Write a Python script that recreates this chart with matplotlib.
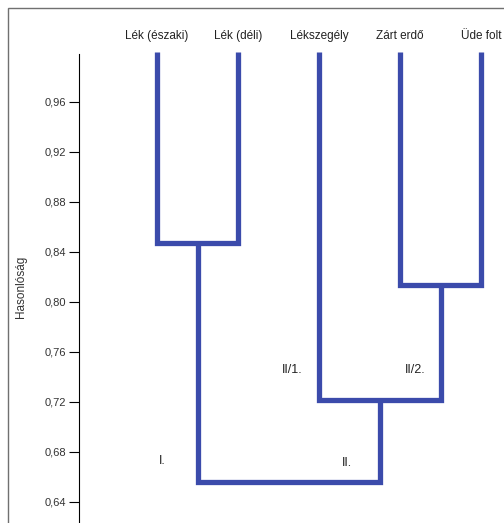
import matplotlib
matplotlib.use('Agg')
import matplotlib.pyplot as plt
from matplotlib.patches import Rectangle

plt.rcParams['font.family'] = ['Liberation Sans', 'DejaVu Sans']

# leaves (in dendrogram order) and merge heights (similarity)
leaves = ['Lék (északi)', 'Lék (déli)', 'Lékszegély', 'Zárt erdő', 'Üde folt']
leaf_top = 1.0
h_lek = 0.847
h_zu = 0.8135
h_II = 0.7215
h_root = 0.6555
group_labels = ['I.', 'II.', 'II/1.', 'II/2.']
group_pos = [(0.07, 0.6725), (2.34, 0.671), (1.67, 0.7455), (3.18, 0.7455)]
yticks = [0.64, 0.68, 0.72, 0.76, 0.80, 0.84, 0.88, 0.92, 0.96]

color = '#3b4bab'
lw = 3.8

fig = plt.figure(figsize=(5.04, 5.23), dpi=100)
fig.patches.append(Rectangle((8 / 504, -0.01), 1.0, 1 - 8 / 523 + 0.01,
                             transform=fig.transFigure, fill=False,
                             edgecolor='#707070', linewidth=1.0))

ax = fig.add_axes([79 / 504, 0.0, 1 - 79 / 504, 1 - 50 / 523])


def link(ax, xl, xr, yl, yr, ym):
    ax.plot([xl, xl, xr, xr], [yl, ym, ym, yr], color=color, lw=lw,
            solid_joinstyle='miter', solid_capstyle='butt')


xs = list(range(len(leaves)))
x_lek = (xs[0] + xs[1]) / 2
x_zu = (xs[3] + xs[4]) / 2
x_II = (xs[2] + x_zu) / 2
link(ax, xs[0], xs[1], leaf_top, leaf_top, h_lek)
link(ax, xs[3], xs[4], leaf_top, leaf_top, h_zu)
link(ax, xs[2], x_zu, leaf_top, h_zu, h_II)
link(ax, x_lek, x_II, h_lek, h_II, h_root)

for x, name in zip(xs, leaves):
    ax.text(x, 1.008, name, ha='center', va='bottom', fontsize=8.5, color='#222222')

for lab, (x, y) in zip(group_labels, group_pos):
    ax.text(x, y, lab, ha='center', va='center', fontsize=9, color='#222222')

ax.set_xlim(-0.963, 4.28)
ax.set_ylim(0.623, 1.0016)
ax.set_yticks(yticks)
ax.set_yticklabels([('%.2f' % v).replace('.', ',') for v in yticks], fontsize=8, color='#333333')
ax.tick_params(axis='y', length=7, width=0.8, pad=2)
ax.set_xticks([])
for s in ['top', 'right', 'bottom']:
    ax.spines[s].set_visible(False)
ax.spines['left'].set_bounds(0.623, 0.998)
ax.spines['left'].set_linewidth(0.8)
ax.set_ylabel('Hasonlóság', fontsize=8.5, labelpad=13, color='#333333')
ax.patch.set_alpha(0)

plt.savefig('out.png', dpi=100)
